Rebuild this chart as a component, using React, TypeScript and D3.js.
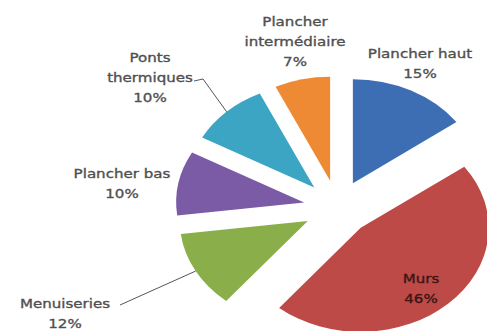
import React from "react";
import * as d3 from "d3";

const categories = ["Plancher haut", "Murs", "Menuiseries", "Plancher bas", "Ponts thermiques", "Plancher intermédiaire"];
const values = [15, 46, 12, 10, 10, 7];
const colors = ["#3D6EB4", "#BE4A47", "#8AAE4A", "#7B5AA6", "#3DA5C4", "#EE8A33"];
const labelLines = [
  ["Plancher haut", "15%"],
  ["Murs", "46%"],
  ["Menuiseries", "12%"],
  ["Plancher bas", "10%"],
  ["Ponts", "thermiques", "10%"],
  ["Plancher", "intermédiaire", "7%"],
];

// layout (not data)
const W = 487, H = 331;
const CX = 337.5, CY = 207.7;
const R = 104;
const SX = 128 / 104;
const EXPLODE = 0.265;
const labelPos = [
  { x: 420, y: 53 },
  { x: 421, y: 278 },
  { x: 65, y: 303 },
  { x: 122, y: 173 },
  { x: 150, y: 57 },
  { x: 295, y: 21 },
];
const lineH = 20;
const leaders: { [k: number]: { start: [number, number]; kink?: [number, number] } } = {
  4: { start: [194, 81], kink: [203, 79] },
  2: { start: [120, 305] },
};

export default function App() {
  const pie = d3.pie<number>().sort(null).value((d) => d).startAngle(0).endAngle(2 * Math.PI);
  const arcs = pie(values);
  const arcGen = d3.arc<d3.PieArcDatum<number>>().innerRadius(0).outerRadius(R);

  const slices = arcs.map((a, i) => {
    const mid = (a.startAngle + a.endAngle) / 2;
    const ox = EXPLODE * R * Math.sin(mid);
    const oy = -EXPLODE * R * Math.cos(mid);
    const edgeX = CX + SX * (ox + R * Math.sin(mid));
    const edgeY = CY + oy - R * Math.cos(mid);
    return { a, i, ox, oy, edge: [edgeX, edgeY] as [number, number] };
  });

  return (
    <svg width={W} height={H} style={{ position: "absolute", left: 0, top: 0, background: "#fff" }}>
      <rect width={W} height={H} fill="#fff" />
      <g transform={`translate(${CX},${CY}) scale(${SX},1)`}>
        {slices.map((s) => (
          <path key={s.i} d={arcGen(s.a) || ""} transform={`translate(${s.ox},${s.oy})`} fill={colors[s.i]} />
        ))}
      </g>
      {slices
        .filter((s) => leaders[s.i])
        .map((s) => {
          const L = leaders[s.i];
          const pts = [L.start, ...(L.kink ? [L.kink] : []), s.edge];
          return (
            <polyline
              key={"l" + s.i}
              points={pts.map((p) => p.join(",")).join(" ")}
              fill="none"
              stroke="#555"
              strokeWidth={1}
            />
          );
        })}
      {labelLines.map((lines, i) => (
        <g key={"t" + i}>
          {lines.map((ln, j) => (
            <text
              key={j}
              transform={`translate(${labelPos[i].x},${labelPos[i].y + j * lineH + 4.5}) scale(1.16,1)`}
              textAnchor="middle"
              fontFamily="DejaVu Sans"
              fontSize={13}
              fill={i === 1 ? "#3a1515" : "#505050"}
              stroke={i === 1 ? "#3a1515" : "#505050"}
              strokeWidth={0.35}
            >
              {ln}
            </text>
          ))}
        </g>
      ))}
    </svg>
  );
}
